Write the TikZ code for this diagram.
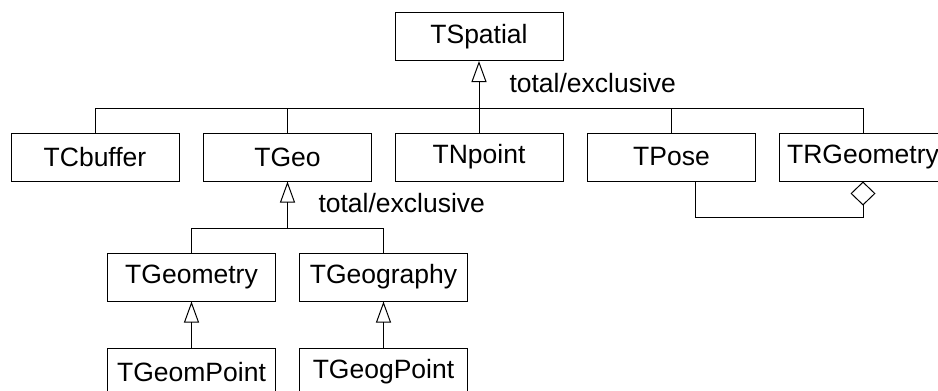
\documentclass[tikz,border=0pt]{standalone}
\usepackage{fontspec}
\setmainfont{Liberation Sans}
\usetikzlibrary{arrows.meta}
\begin{document}
\begin{tikzpicture}[x=1pt,y=-1pt,line width=1pt,
  cls/.style={draw,line width=1pt,minimum width=168pt,minimum height=48pt,inner sep=0pt,font=\fontsize{26.5}{31}\selectfont},
  lbl/.style={inner sep=0pt,font=\fontsize{26.5}{31}\selectfont},
  gen/.style={-{Triangle[open,length=21pt,width=15pt,line width=1pt]}},
  agg/.style={-{Diamond[open,length=24pt,width=25pt,line width=1pt]}}]
\useasboundingbox (0,0) rectangle (938,391);
\node[cls] (tspatial) at (479,36.5) {TSpatial};
\node[cls] (tcbuffer) at (95,157) {TCbuffer};
\node[cls] (tgeo) at (287.5,157) {TGeo};
\node[cls] (tnpoint) at (479,157) {TNpoint};
\node[cls] (tpose) at (671.5,157) {TPose};
\node[cls] (trgeo) at (863,157) {TRGeometry};
\node[cls] (tgeometry) at (191.5,277) {TGeometry};
\node[cls] (tgeography) at (383.5,277) {TGeography};
\node[cls] (tgeompoint) at (191.5,372) {TGeomPoint};
\node[cls] (tgeogpoint) at (383.5,372) {TGeogPoint};
\coordinate (bar) at (0,108);
\coordinate (bar2) at (0,228);
\coordinate (j2) at (tgeo.south |- bar2);
% level 1 generalization
\draw (tcbuffer.north) |- (trgeo.north |- bar) -- (trgeo.north);
\draw (tgeo.north) -- (tgeo.north |- bar);
\draw (tpose.north) -- (tpose.north |- bar);
\draw[gen] (tnpoint.north) -- (tspatial.south);
\node[lbl,anchor=base west] (l1) at (509,92) {total/exclusive};
% level 2 generalization
\draw (tgeometry.north) |- (tgeography.north |- bar2) -- (tgeography.north);
\draw[gen] (j2) -- (tgeo.south);
\node[lbl,anchor=base west] (l2) at (318,212) {total/exclusive};
% level 3
\draw[gen] (tgeompoint.north) -- (tgeometry.south);
\draw[gen] (tgeogpoint.north) -- (tgeography.south);
% aggregation
\coordinate (ps) at ([xshift=23.5pt]tpose.south);
\draw[agg] (ps) -- ++(0,36) -| (trgeo.south);
\end{tikzpicture}
\end{document}
